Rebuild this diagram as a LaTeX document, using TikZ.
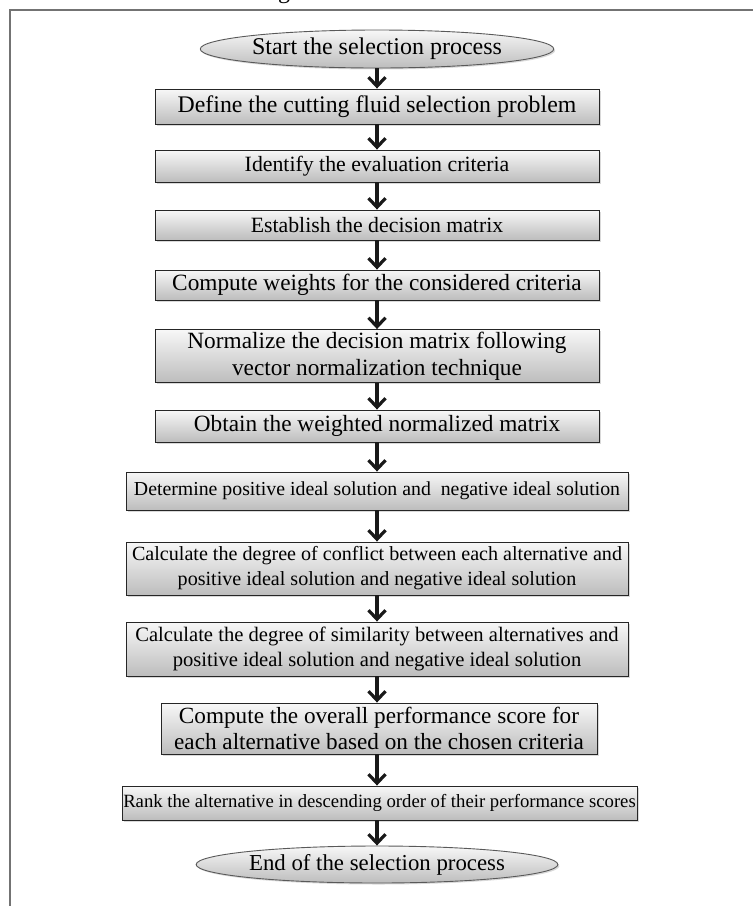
\documentclass[tikz,border=0pt]{standalone}
\usepackage{fontspec}
\setmainfont{Liberation Serif}
\usetikzlibrary{arrows.meta,shapes.geometric,shadows}
\tikzset{
  stepbox/.style={draw=black!85, line width=0.9pt, top color=white!97!black, bottom color=black!26,
    drop shadow={opacity=0.3, shadow xshift=1.5pt, shadow yshift=-1.5pt},
    align=center, inner sep=0pt},
  termbox/.style={stepbox, ellipse, draw=black!65},
  fs/.style 2 args={font=\fontsize{#1}{#2}\selectfont},
  arr/.style={draw=black!90, line width=3.2pt, -{Straight Barb[length=9pt,width=17pt,line width=3.2pt]}},
  framel/.style={draw=black!55, line width=2pt}
}
\begin{document}
\begin{tikzpicture}[x=1pt,y=-1pt]
\useasboundingbox (0,0) rectangle (753,906);
\draw[framel] (10,930) coordinate (fb) -- (10,10) coordinate (fc) -- (780,10) coordinate (fr);
\node[anchor=base, fs={24}{28}] (cap) at (284,-1.5) {g};
\node[termbox, fs={24}{28}, minimum width=325pt, minimum height=38pt] (s) at (377,49) {Start the selection process};
\node[stepbox, fs={23.8}{27}, minimum width=444pt, minimum height=35pt] (b1) at (377,106.5) {Define the cutting fluid selection problem};
\node[stepbox, fs={21.8}{25}, minimum width=444pt, minimum height=32pt] (b2) at (377,166) {Identify the evaluation criteria};
\node[stepbox, fs={21.8}{25}, minimum width=444pt, minimum height=30pt] (b3) at (377,225) {Establish the decision matrix};
\node[stepbox, fs={23.3}{26.5}, minimum width=444pt, minimum height=30pt] (b4) at (377,285) {Compute weights for the considered criteria};
\node[stepbox, fs={23.3}{27}, minimum width=444pt, minimum height=53pt] (b5) at (377,356) {Normalize the decision matrix following\\vector normalization technique};
\node[stepbox, fs={23.3}{26.5}, minimum width=444pt, minimum height=32pt] (b6) at (377,426) {Obtain the weighted normalized matrix};
\node[stepbox, fs={19.8}{23.5}, minimum width=502pt, minimum height=38pt] (b7) at (377,491) {Determine positive ideal solution and~ negative ideal solution};
\node[stepbox, fs={20.1}{25}, minimum width=502pt, minimum height=53pt] (b8) at (377,568.5) {Calculate the degree of conflict between each alternative and\\positive ideal solution and negative ideal solution};
\node[stepbox, fs={20.6}{25}, minimum width=502pt, minimum height=54pt] (b9) at (377,649) {Calculate the degree of similarity between alternatives and\\positive ideal solution and negative ideal solution};
\node[stepbox, fs={23.2}{25.5}, minimum width=436pt, minimum height=51pt] (b10) at (379,728.5) {Compute the overall performance score for\\each alternative based on the chosen criteria};
\node[stepbox, fs={18.7}{22}, minimum width=515pt, minimum height=34pt] (b11) at (379.5,803) {Rank the alternative in descending order of their performance scores};
\node[termbox, fs={22.8}{27}, minimum width=325pt, minimum height=37pt] (e) at (377,864.5) {End of the selection process};
\foreach \a/\b in {s/b1,b1/b2,b2/b3,b3/b4,b4/b5,b5/b6,b6/b7,b7/b8,b8/b9,b9/b10,b10/b11,b11/e}
  \draw[arr] (\a.south -| s.south) -- (\b.north -| s.south);
\end{tikzpicture}
\end{document}
